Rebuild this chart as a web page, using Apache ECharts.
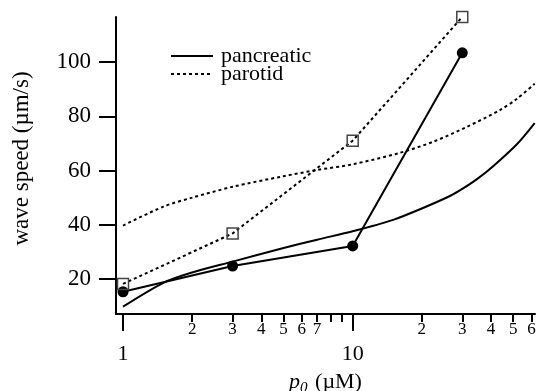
<!DOCTYPE html>
<html><head><meta charset="utf-8">
<script src="https://cdn.jsdelivr.net/npm/echarts@6/dist/echarts.min.js"></script>
<style>html,body{margin:0;padding:0;background:#fff}#c{width:538px;height:391px}</style>
</head><body><div id="c"></div>
<script>
const FONT = '"Liberation Serif", "Times New Roman", serif';
// model curves
const pancreaticCurveP = [1, 1.5, 2, 3, 5, 7, 10, 15, 20, 26.5, 30, 35, 41, 52, 62];
const pancreaticCurveV = [9.8, 18.6, 22.4, 26.4, 31.4, 34.5, 37.6, 41.8, 46, 50.6, 53.2, 57.0, 61.7, 69.8, 77.5];
const parotidCurveP = [1, 1.5, 2, 3, 5, 7, 10, 16, 22.4, 31.4, 43.8, 52, 62];
const parotidCurveV = [39.7, 46.7, 50, 54, 57.9, 60.2, 62.3, 66.5, 70.6, 76.1, 82.3, 86.5, 92];
// measured points
const dataP = [1, 3, 10, 30];
const pancreaticDataV = [15.3, 24.8, 32.2, 103.4];
const parotidDataV = [18.2, 36.8, 71.0, 116.6];
// ticks
const yTicks = [20, 40, 60, 80, 100];
const xMajorTicks = [1, 10];
const xMinorTicks = [2, 3, 4, 5, 6, 7, 8, 9, 20, 30, 40, 50, 60];
const xMinorLabels = [2, 3, 4, 5, 6, 7, 20, 30, 40, 50, 60];

const zip = (a, b) => a.map((v, i) => [v, b[i]]);
const X_MIN = 0.932, X_MAX = 62.2, Y_MIN = 7.1, Y_MAX = 116.6;

const legendBase = { left: 170, padding: 0, itemWidth: 42, itemHeight: 14,
  itemStyle: { opacity: 0 },
  textStyle: { fontFamily: FONT, fontSize: 22, color: '#000', lineHeight: 22, padding: [0, 0, 0, 3] } };

const chart = echarts.init(document.getElementById('c'));
chart.setOption({
  animation: false,
  backgroundColor: '#fff',
  grid: { left: 116, right: 3, top: 17, bottom: 77, containLabel: false, outerBoundsMode: 'none' },
  legend: [
    Object.assign({ data: ['pancreatic'], top: 45 }, legendBase),
    Object.assign({ data: ['parotid'], top: 63 }, legendBase)
  ],
  xAxis: [
    { type: 'log', min: X_MIN, max: X_MAX, position: 'bottom',
      axisLine: { show: true, lineStyle: { color: '#000', width: 2 } },
      axisTick: { show: true, customValues: xMajorTicks, length: 17, lineStyle: { color: '#000', width: 2 } },
      axisLabel: { show: true, customValues: xMajorTicks, margin: 29, fontFamily: FONT, fontSize: 22, color: '#000' },
      splitLine: { show: false },
      name: '{i|p}{s|0} (µM)', nameLocation: 'middle', nameGap: 55,
      nameTextStyle: { fontFamily: FONT, fontSize: 22, color: '#000',
        rich: { i: { fontFamily: FONT, fontSize: 22, fontStyle: 'italic', color: '#000' },
                s: { fontFamily: FONT, fontSize: 15, fontStyle: 'italic', color: '#000', padding: [12, 2, 0, 0] } } } },
    { type: 'log', min: X_MIN, max: X_MAX, position: 'bottom',
      axisLine: { show: false },
      axisTick: { show: true, customValues: xMinorTicks, length: 8, lineStyle: { color: '#000', width: 2 } },
      axisLabel: { show: true, customValues: xMinorLabels, margin: 7, fontFamily: FONT, fontSize: 17, color: '#000',
        formatter: v => String(v >= 10 ? Math.round(v / 10) : Math.round(v)) },
      splitLine: { show: false } }
  ],
  yAxis: {
    type: 'value', min: Y_MIN, max: Y_MAX,
    axisLine: { show: true, lineStyle: { color: '#000', width: 2 } },
    axisTick: { show: true, customValues: yTicks, length: 17, lineStyle: { color: '#000', width: 2 } },
    axisLabel: { customValues: yTicks, margin: 25, fontFamily: FONT, fontSize: 23, color: '#000' },
    splitLine: { show: false },
    name: 'wave speed (µm/s)', nameLocation: 'middle', nameGap: 83,
    nameTextStyle: { fontFamily: FONT, fontSize: 23, color: '#000', padding: [0, 0, 0, 14] }
  },
  series: [
    { name: 'pancreatic', type: 'line', xAxisIndex: 0, data: zip(pancreaticCurveP, pancreaticCurveV),
      smooth: 0.3, symbol: 'none', lineStyle: { color: '#000', width: 2 }, itemStyle: { color: '#000' } },
    { name: 'parotid', type: 'line', xAxisIndex: 0, data: zip(parotidCurveP, parotidCurveV),
      smooth: 0.3, symbol: 'none', lineStyle: { color: '#000', width: 2, type: [3, 3] }, itemStyle: { color: '#000' } },
    { name: 'pancreatic data', type: 'line', xAxisIndex: 0, data: zip(dataP, pancreaticDataV), clip: false,
      symbol: 'circle', symbolSize: 11, lineStyle: { color: '#000', width: 2 }, itemStyle: { color: '#000' } },
    { name: 'parotid data', type: 'line', xAxisIndex: 0, data: zip(dataP, parotidDataV), clip: false,
      symbol: 'rect', symbolSize: 11, lineStyle: { color: '#000', width: 2, type: [3, 3] },
      itemStyle: { color: 'rgba(255,255,255,0)', borderColor: '#444', borderWidth: 1.5 } }
  ]
});
</script></body></html>
